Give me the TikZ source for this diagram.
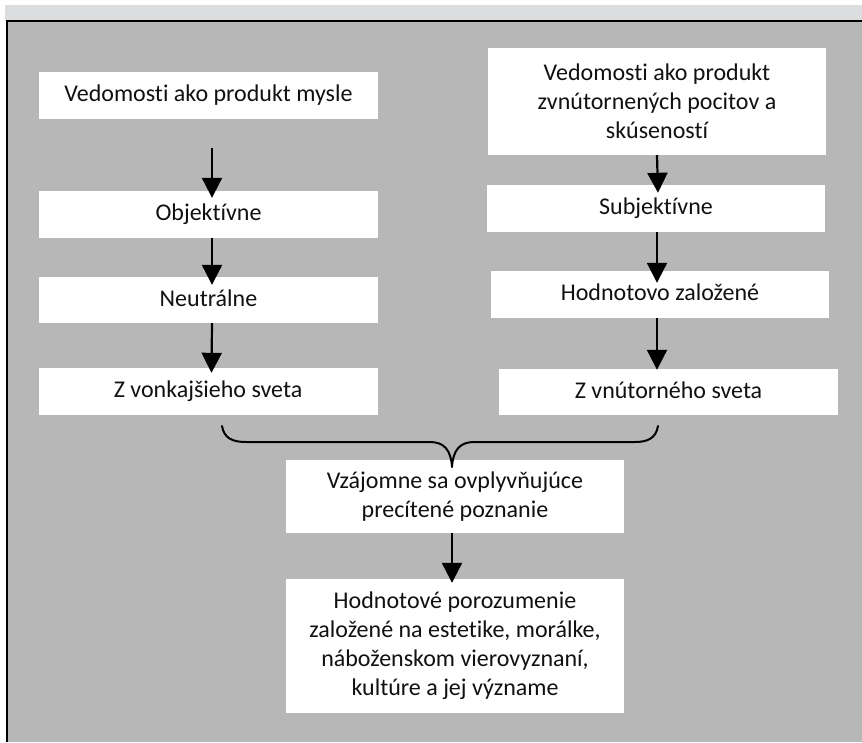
\documentclass[tikz,border=0pt]{standalone}
\usepackage{fontspec}
\setmainfont{Carlito}[Ligatures={NoCommon}]
\usetikzlibrary{arrows.meta}
\definecolor{bggray}{HTML}{B7B7B7}
\definecolor{stripgray}{HTML}{DCDDDF}
\definecolor{txt}{HTML}{111111}
\begin{document}
\begin{tikzpicture}[x=1pt,y=-1pt,
  box/.style={rectangle,fill=white,inner sep=0pt,align=center,text=txt,
    font=\fontsize{24}{29}\selectfont},
  onebox/.style={box,minimum width=339pt,minimum height=47pt,text height=17pt,text depth=5pt},
  flow/.style={line width=2.2pt,-{Triangle[width=20pt,length=20pt]}},
  bracepath/.style={line width=2pt,line cap=round,line join=round}]
\useasboundingbox (0,0) rectangle (862,742);
\fill[white] (0,0) rectangle (862,742);
\fill[stripgray] (5,5) rectangle (862,20.5);
\fill[bggray] (7,21) rectangle (862,742);
\draw[line width=1.6pt] (862,21) -- (7,21) -- (7,742);

\node[onebox] (L1) at (208.5,95.5) {Vedomosti ako produkt mysle};
\node[onebox] (L2) at (208.5,214.5) {Objektívne};
\node[onebox,minimum height=46pt] (L3) at (208.5,300) {Neutrálne};
\node[onebox] (L4) at (208,391.5) {Z vonkajšieho sveta};

\node[box,minimum width=338pt,minimum height=107pt] (R1) at (657,101.5)
  {Vedomosti ako produkt\\zvnútornených pocitov a\\skúseností};
\node[onebox,minimum width=338pt] (R2) at (656,208.5) {Subjektívne};
\node[onebox,minimum width=338pt] (R3) at (660,294.5) {Hodnotovo založené};
\node[onebox,minimum height=46pt] (R4) at (668.5,392) {Z vnútorného sveta};

\node[box,minimum width=338pt,minimum height=73pt] (C1) at (455,496.5)
  {Vzájomne sa ovplyvňujúce\\precítené poznanie};
\node[box,minimum width=338pt,minimum height=134pt] (C2) at (455,646)
  {Hodnotové porozumenie\\založené na estetike, morálke,\\náboženskom vierovyznaní,\\kultúre a jej význame};

\draw[flow] ([xshift=3.5pt,yshift=-29pt]L1.south) -- ([xshift=3.5pt,yshift=-7pt]L2.north);
\draw[flow] ([xshift=3.5pt]L2.south) -- ([xshift=3.5pt,yshift=-8pt]L3.north);
\draw[flow] ([xshift=3.5pt]L3.south) -- ([xshift=3.5pt,yshift=-5pt]L4.north);

\draw[flow] (R1.south) -- ([xshift=1pt,yshift=-8pt]R1.south |- R2.north);
\draw[flow] ([xshift=1pt]R2.south) -- ([xshift=1pt,yshift=-12pt]R2.south |- R3.north);
\draw[flow] ([xshift=-3pt]R3.south) -- ([xshift=-3pt,yshift=-1pt]R3.south |- R4.north);

\draw[flow] ([xshift=-3pt]C1.south) -- ([xshift=-3pt,yshift=-4pt]C2.north);

\coordinate (bl) at (222,426);
\coordinate (br) at (658,426);
\coordinate (btip) at (452,467);
\draw[bracepath] (bl) .. controls (224,438) and (232,442) .. (246,442)
  -- (430,442) .. controls (444,442) and (451,450) .. (btip)
  .. controls (453,450) and (460,442) .. (474,442)
  -- (635,442) .. controls (648,442) and (656,438) .. (br);
\end{tikzpicture}
\end{document}
